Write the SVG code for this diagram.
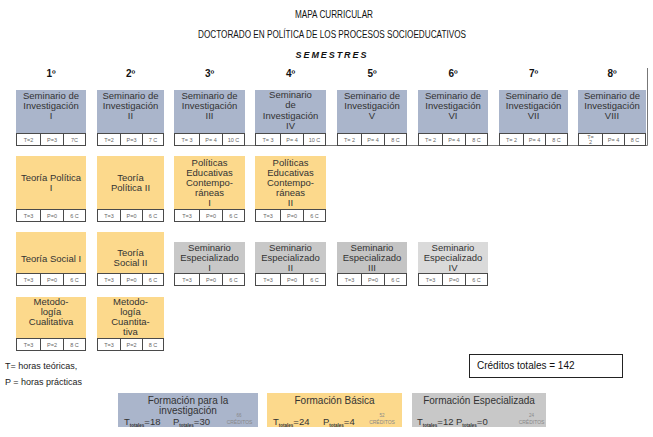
<svg xmlns="http://www.w3.org/2000/svg" width="653" height="437" viewBox="0 0 653 437">
<style>
.hdr{font-family:"Liberation Sans",Arial,sans-serif;font-size:10px;fill:#111;text-anchor:middle}
.num{font-family:"Liberation Sans",Arial,sans-serif;font-size:10px;font-weight:bold;fill:#111;text-anchor:middle}
.blue{fill:#aab5cb}
.yel{fill:#fcd98c}
.gry{fill:#c8c8c8}
.gry2{fill:#dadada}
.lbl{font-family:"Liberation Sans",Arial,sans-serif;font-size:9.5px;fill:#333;text-anchor:middle}
.cell{fill:#fff;stroke:#4a4a4a;stroke-width:1}
.ct{font-family:"Liberation Sans",Arial,sans-serif;font-size:5.5px;fill:#666;text-anchor:middle}
.leg{font-family:"Liberation Sans",Arial,sans-serif;font-size:9px;fill:#222}
.lt{font-family:"Liberation Sans",Arial,sans-serif;font-size:10px;fill:#333}
.tl{font-family:"Liberation Sans",Arial,sans-serif;font-size:9.5px;fill:#333}
.sub{font-size:4.5px;font-weight:bold}
.cr{font-family:"Liberation Sans",Arial,sans-serif;font-size:5px;fill:#888;text-anchor:middle}
</style>

<g id="header">
<text class="hdr" x="334" y="18" textLength="78" lengthAdjust="spacingAndGlyphs">MAPA CURRICULAR</text>
<text class="hdr" x="332" y="38" textLength="268" lengthAdjust="spacingAndGlyphs">DOCTORADO EN POLÍTICA DE LOS PROCESOS SOCIOEDUCATIVOS</text>
<text class="hdr" x="331" y="58" font-weight="bold" font-style="italic" style="font-size:9px" textLength="71" lengthAdjust="spacing">S E M E S T R E S</text>
<text class="num" x="51" y="77">1º</text>
<text class="num" x="130.5" y="77">2º</text>
<text class="num" x="209.5" y="77">3º</text>
<text class="num" x="290.5" y="77">4º</text>
<text class="num" x="372" y="77">5º</text>
<text class="num" x="453" y="77">6º</text>
<text class="num" x="533.5" y="77">7º</text>
<text class="num" x="612" y="77">8º</text>
</g>

<g id="connectors">
<path d="M174 145.5 H647.5 V68" fill="none" stroke="#777" stroke-width="1"/>
</g>

<!-- Row 1 -->
<g id="si1">
<rect class="blue" x="16" y="90" width="70" height="43"/>
<text class="lbl"><tspan x="51" y="99">Seminario de</tspan><tspan x="51" y="109">Investigación</tspan><tspan x="51" y="119">I</tspan></text>
<rect class="cell" x="16.5" y="133.5" width="24" height="12"/><rect class="cell" x="40.5" y="133.5" width="23" height="12"/><rect class="cell" x="63.5" y="133.5" width="22" height="12"/>
<text class="ct" x="28.5" y="141.5">T=2</text><text class="ct" x="52" y="141.5">P=3</text><text class="ct" x="74.5" y="141.5">7C</text>
</g>
<g id="si2">
<rect class="blue" x="97" y="90" width="67" height="43"/>
<text class="lbl"><tspan x="130.5" y="99">Seminario de</tspan><tspan x="130.5" y="109">Investigación</tspan><tspan x="130.5" y="119">II</tspan></text>
<rect class="cell" x="97.5" y="133.5" width="23" height="12"/><rect class="cell" x="120.5" y="133.5" width="22" height="12"/><rect class="cell" x="142.5" y="133.5" width="21" height="12"/>
<text class="ct" x="109" y="141.5">T=2</text><text class="ct" x="131.5" y="141.5">P=3</text><text class="ct" x="153" y="141.5">7 C</text>
</g>
<g id="si3">
<rect class="blue" x="174" y="90" width="71" height="43"/>
<text class="lbl"><tspan x="209.5" y="99">Seminario de</tspan><tspan x="209.5" y="109">Investigación</tspan><tspan x="209.5" y="119">III</tspan></text>
<rect class="cell" x="174.5" y="133.5" width="25" height="12"/><rect class="cell" x="199.5" y="133.5" width="23" height="12"/><rect class="cell" x="222.5" y="133.5" width="22" height="12"/>
<text class="ct" x="187" y="141.5">T= 3</text><text class="ct" x="211" y="141.5">P= 4</text><text class="ct" x="233.5" y="141.5">10 C</text>
</g>
<g id="si4">
<rect class="blue" x="255" y="90" width="71" height="43"/>
<text class="lbl"><tspan x="290.5" y="98">Seminario</tspan><tspan x="290.5" y="108">de</tspan><tspan x="290.5" y="118.5">Investigación</tspan><tspan x="290.5" y="129">IV</tspan></text>
<rect class="cell" x="255.5" y="133.5" width="25" height="12"/><rect class="cell" x="280.5" y="133.5" width="23" height="12"/><rect class="cell" x="303.5" y="133.5" width="22" height="12"/>
<text class="ct" x="268" y="141.5">T= 3</text><text class="ct" x="292" y="141.5">P= 4</text><text class="ct" x="314.5" y="141.5">10 C</text>
</g>
<g id="si5">
<rect class="blue" x="337" y="90" width="70" height="43"/>
<text class="lbl"><tspan x="372" y="99">Seminario de</tspan><tspan x="372" y="109">Investigación</tspan><tspan x="372" y="119">V</tspan></text>
<rect class="cell" x="337.5" y="133.5" width="24" height="12"/><rect class="cell" x="361.5" y="133.5" width="23" height="12"/><rect class="cell" x="384.5" y="133.5" width="22" height="12"/>
<text class="ct" x="349.5" y="141.5">T= 2</text><text class="ct" x="373" y="141.5">P= 4</text><text class="ct" x="395.5" y="141.5">8 C</text>
</g>
<g id="si6">
<rect class="blue" x="418" y="90" width="70" height="43"/>
<text class="lbl"><tspan x="453" y="99">Seminario de</tspan><tspan x="453" y="109">Investigación</tspan><tspan x="453" y="119">VI</tspan></text>
<rect class="cell" x="418.5" y="133.5" width="24" height="12"/><rect class="cell" x="442.5" y="133.5" width="23" height="12"/><rect class="cell" x="465.5" y="133.5" width="22" height="12"/>
<text class="ct" x="430.5" y="141.5">T= 2</text><text class="ct" x="454" y="141.5">P= 4</text><text class="ct" x="476.5" y="141.5">8 C</text>
</g>
<g id="si7">
<rect class="blue" x="499" y="90" width="69" height="43"/>
<text class="lbl"><tspan x="533.5" y="99">Seminario de</tspan><tspan x="533.5" y="109">Investigación</tspan><tspan x="533.5" y="119">VII</tspan></text>
<rect class="cell" x="499.5" y="133.5" width="24" height="12"/><rect class="cell" x="523.5" y="133.5" width="22" height="12"/><rect class="cell" x="545.5" y="133.5" width="22" height="12"/>
<text class="ct" x="511.5" y="141.5">T= 2</text><text class="ct" x="534.5" y="141.5">P= 4</text><text class="ct" x="556.5" y="141.5">8 C</text>
</g>
<g id="si8">
<rect class="blue" x="578" y="90" width="68" height="43"/>
<text class="lbl"><tspan x="612" y="99">Seminario de</tspan><tspan x="612" y="109">Investigación</tspan><tspan x="612" y="119">VIII</tspan></text>
<rect class="cell" x="578.5" y="133.5" width="24" height="12"/><rect class="cell" x="602.5" y="133.5" width="22" height="12"/><rect class="cell" x="624.5" y="133.5" width="21" height="12"/>
<text class="ct"><tspan x="590.5" y="138.5">T=</tspan><tspan x="590.5" y="144">2</tspan></text><text class="ct" x="613.5" y="141.5">P= 4</text><text class="ct" x="635" y="141.5">8 C</text>
</g>

<!-- Row 2 -->
<g id="tp1">
<rect class="yel" x="16" y="156" width="70" height="53"/>
<text class="lbl"><tspan x="51" y="181">Teoría Política</tspan><tspan x="51" y="191">I</tspan></text>
<rect class="cell" x="16.5" y="209.5" width="24" height="12"/><rect class="cell" x="40.5" y="209.5" width="23" height="12"/><rect class="cell" x="63.5" y="209.5" width="22" height="12"/>
<text class="ct" x="28.5" y="217.5">T=3</text><text class="ct" x="52" y="217.5">P=0</text><text class="ct" x="74.5" y="217.5">6 C</text>
</g>
<g id="tp2">
<rect class="yel" x="97" y="156" width="67" height="53"/>
<text class="lbl"><tspan x="130.5" y="181">Teoría</tspan><tspan x="130.5" y="191">Política II</tspan></text>
<rect class="cell" x="97.5" y="209.5" width="23" height="12"/><rect class="cell" x="120.5" y="209.5" width="22" height="12"/><rect class="cell" x="142.5" y="209.5" width="21" height="12"/>
<text class="ct" x="109" y="217.5">T=3</text><text class="ct" x="131.5" y="217.5">P=0</text><text class="ct" x="153" y="217.5">6 C</text>
</g>
<g id="pe1">
<rect class="yel" x="174" y="156" width="71" height="53"/>
<text class="lbl"><tspan x="209.5" y="166">Políticas</tspan><tspan x="209.5" y="176">Educativas</tspan><tspan x="209.5" y="186">Contempo-</tspan><tspan x="209.5" y="196">ráneas</tspan><tspan x="209.5" y="205.5">I</tspan></text>
<rect class="cell" x="174.5" y="209.5" width="25" height="12"/><rect class="cell" x="199.5" y="209.5" width="23" height="12"/><rect class="cell" x="222.5" y="209.5" width="22" height="12"/>
<text class="ct" x="187" y="217.5">T=3</text><text class="ct" x="211" y="217.5">P=0</text><text class="ct" x="233.5" y="217.5">6 C</text>
</g>
<g id="pe2">
<rect class="yel" x="255" y="156" width="71" height="53"/>
<text class="lbl"><tspan x="290.5" y="166">Políticas</tspan><tspan x="290.5" y="176">Educativas</tspan><tspan x="290.5" y="186">Contempo-</tspan><tspan x="290.5" y="196">ráneas</tspan><tspan x="290.5" y="205.5">II</tspan></text>
<rect class="cell" x="255.5" y="209.5" width="25" height="12"/><rect class="cell" x="280.5" y="209.5" width="23" height="12"/><rect class="cell" x="303.5" y="209.5" width="22" height="12"/>
<text class="ct" x="268" y="217.5">T=3</text><text class="ct" x="292" y="217.5">P=0</text><text class="ct" x="314.5" y="217.5">6 C</text>
</g>

<!-- Row 3 -->
<g id="ts1">
<rect class="yel" x="16" y="232" width="70" height="41"/>
<text class="lbl" x="51" y="262">Teoría Social I</text>
<rect class="cell" x="16.5" y="273.5" width="24" height="12"/><rect class="cell" x="40.5" y="273.5" width="23" height="12"/><rect class="cell" x="63.5" y="273.5" width="22" height="12"/>
<text class="ct" x="28.5" y="281.5">T=3</text><text class="ct" x="52" y="281.5">P=0</text><text class="ct" x="74.5" y="281.5">6 C</text>
</g>
<g id="ts2">
<rect class="yel" x="97" y="232" width="67" height="41"/>
<text class="lbl"><tspan x="130.5" y="256">Teoría</tspan><tspan x="130.5" y="266">Social II</tspan></text>
<rect class="cell" x="97.5" y="273.5" width="23" height="12"/><rect class="cell" x="120.5" y="273.5" width="22" height="12"/><rect class="cell" x="142.5" y="273.5" width="21" height="12"/>
<text class="ct" x="109" y="281.5">T=3</text><text class="ct" x="131.5" y="281.5">P=0</text><text class="ct" x="153" y="281.5">6 C</text>
</g>
<g id="se1">
<rect class="gry" x="174" y="242" width="71" height="31"/>
<text class="lbl"><tspan x="209.5" y="251">Seminario</tspan><tspan x="209.5" y="261">Especializado</tspan><tspan x="209.5" y="271">I</tspan></text>
<rect class="cell" x="174.5" y="273.5" width="25" height="12"/><rect class="cell" x="199.5" y="273.5" width="23" height="12"/><rect class="cell" x="222.5" y="273.5" width="22" height="12"/>
<text class="ct" x="187" y="281.5">T=3</text><text class="ct" x="211" y="281.5">P=0</text><text class="ct" x="233.5" y="281.5">6 C</text>
</g>
<g id="se2">
<rect class="gry" x="255" y="242" width="71" height="31"/>
<text class="lbl"><tspan x="290.5" y="251">Seminario</tspan><tspan x="290.5" y="261">Especializado</tspan><tspan x="290.5" y="271">II</tspan></text>
<rect class="cell" x="255.5" y="273.5" width="25" height="12"/><rect class="cell" x="280.5" y="273.5" width="23" height="12"/><rect class="cell" x="303.5" y="273.5" width="22" height="12"/>
<text class="ct" x="268" y="281.5">T=3</text><text class="ct" x="292" y="281.5">P=0</text><text class="ct" x="314.5" y="281.5">6 C</text>
</g>
<g id="se3">
<rect x="337" y="242" width="70" height="31" style="fill:#c4c4c4"/>
<text class="lbl"><tspan x="372" y="251">Seminario</tspan><tspan x="372" y="261">Especializado</tspan><tspan x="372" y="271">III</tspan></text>
<rect class="cell" x="337.5" y="273.5" width="24" height="12"/><rect class="cell" x="361.5" y="273.5" width="23" height="12"/><rect class="cell" x="384.5" y="273.5" width="22" height="12"/>
<text class="ct" x="349.5" y="281.5">T=3</text><text class="ct" x="373" y="281.5">P=0</text><text class="ct" x="395.5" y="281.5">6 C</text>
</g>
<g id="se4">
<rect class="gry2" x="418" y="242" width="70" height="31"/>
<text class="lbl"><tspan x="453" y="251">Seminario</tspan><tspan x="453" y="261">Especializado</tspan><tspan x="453" y="271">IV</tspan></text>
<rect class="cell" x="418.5" y="273.5" width="24" height="12"/><rect class="cell" x="442.5" y="273.5" width="23" height="12"/><rect class="cell" x="465.5" y="273.5" width="22" height="12"/>
<text class="ct" x="430.5" y="281.5">T=3</text><text class="ct" x="454" y="281.5">P=0</text><text class="ct" x="476.5" y="281.5">6 C</text>
</g>

<!-- Row 4 -->
<g id="mq1">
<rect class="yel" x="16" y="297" width="70" height="41"/>
<text class="lbl"><tspan x="51" y="305">Metodo-</tspan><tspan x="51" y="315">logía</tspan><tspan x="51" y="325">Cualitativa</tspan></text>
<rect class="cell" x="16.5" y="338.5" width="24" height="12"/><rect class="cell" x="40.5" y="338.5" width="23" height="12"/><rect class="cell" x="63.5" y="338.5" width="22" height="12"/>
<text class="ct" x="28.5" y="346.5">T=3</text><text class="ct" x="52" y="346.5">P=2</text><text class="ct" x="74.5" y="346.5">8 C</text>
</g>
<g id="mq2">
<rect class="yel" x="97" y="297" width="67" height="41"/>
<text class="lbl"><tspan x="130.5" y="305">Metodo-</tspan><tspan x="130.5" y="315">logía</tspan><tspan x="130.5" y="325">Cuantita-</tspan><tspan x="130.5" y="335">tiva</tspan></text>
<rect class="cell" x="97.5" y="338.5" width="23" height="12"/><rect class="cell" x="120.5" y="338.5" width="22" height="12"/><rect class="cell" x="142.5" y="338.5" width="21" height="12"/>
<text class="ct" x="109" y="346.5">T=3</text><text class="ct" x="131.5" y="346.5">P=2</text><text class="ct" x="153" y="346.5">8 C</text>
</g>

<!-- Notes -->
<g id="notes">
<text class="leg" x="5" y="369">T= horas teóricas,</text>
<text class="leg" x="5" y="385">P = horas prácticas</text>
</g>

<g id="total">
<rect x="469.5" y="354.5" width="153" height="23" fill="#fff" stroke="#222" stroke-width="1"/>
<text class="lt" x="477" y="369" style="fill:#111">Créditos totales = 142</text>
</g>

<!-- Legend -->
<g id="leg-inv">
<rect class="blue" x="118" y="393" width="140" height="34"/>
<text class="lbl" style="font-size:10px"><tspan x="188" y="403.5">Formación para la</tspan><tspan x="188" y="413.5">investigación</tspan></text>
<text class="tl" x="124" y="425">T<tspan class="sub" dy="1.5">totales</tspan><tspan dy="-1.5">=18</tspan></text>
<text class="tl" x="173" y="425">P<tspan class="sub" dy="1.5">totales</tspan><tspan dy="-1.5">=30</tspan></text>
<text class="cr" x="239" y="417" style="font-size:4.5px">66</text>
<text class="cr" x="239.5" y="424">CRÉDITOS</text>
</g>
<g id="leg-bas">
<rect class="yel" x="267" y="393" width="135" height="34"/>
<text class="lbl" x="334.5" y="404" style="font-size:10px">Formación Básica</text>
<text class="tl" x="273" y="425">T<tspan class="sub" dy="1.5">totales</tspan><tspan dy="-1.5">=24</tspan></text>
<text class="tl" x="323" y="425">P<tspan class="sub" dy="1.5">totales</tspan><tspan dy="-1.5">=4</tspan></text>
<text class="cr" x="382" y="417" style="font-size:4.5px">52</text>
<text class="cr" x="382" y="424">CRÉDITOS</text>
</g>
<g id="leg-esp">
<rect class="gry" x="412" y="393" width="134" height="34"/>
<text class="lbl" x="479" y="404" style="font-size:10px">Formación Especializada</text>
<text class="tl" x="417" y="425">T<tspan class="sub" dy="1.5">totales</tspan><tspan dy="-1.5">=12</tspan></text>
<text class="tl" x="456" y="425">P<tspan class="sub" dy="1.5">totales</tspan><tspan dy="-1.5">=0</tspan></text>
<text class="cr" x="531.5" y="417" style="font-size:4.5px">24</text>
<text class="cr" x="531.5" y="424">CRÉDITOS</text>
</g>
</svg>
